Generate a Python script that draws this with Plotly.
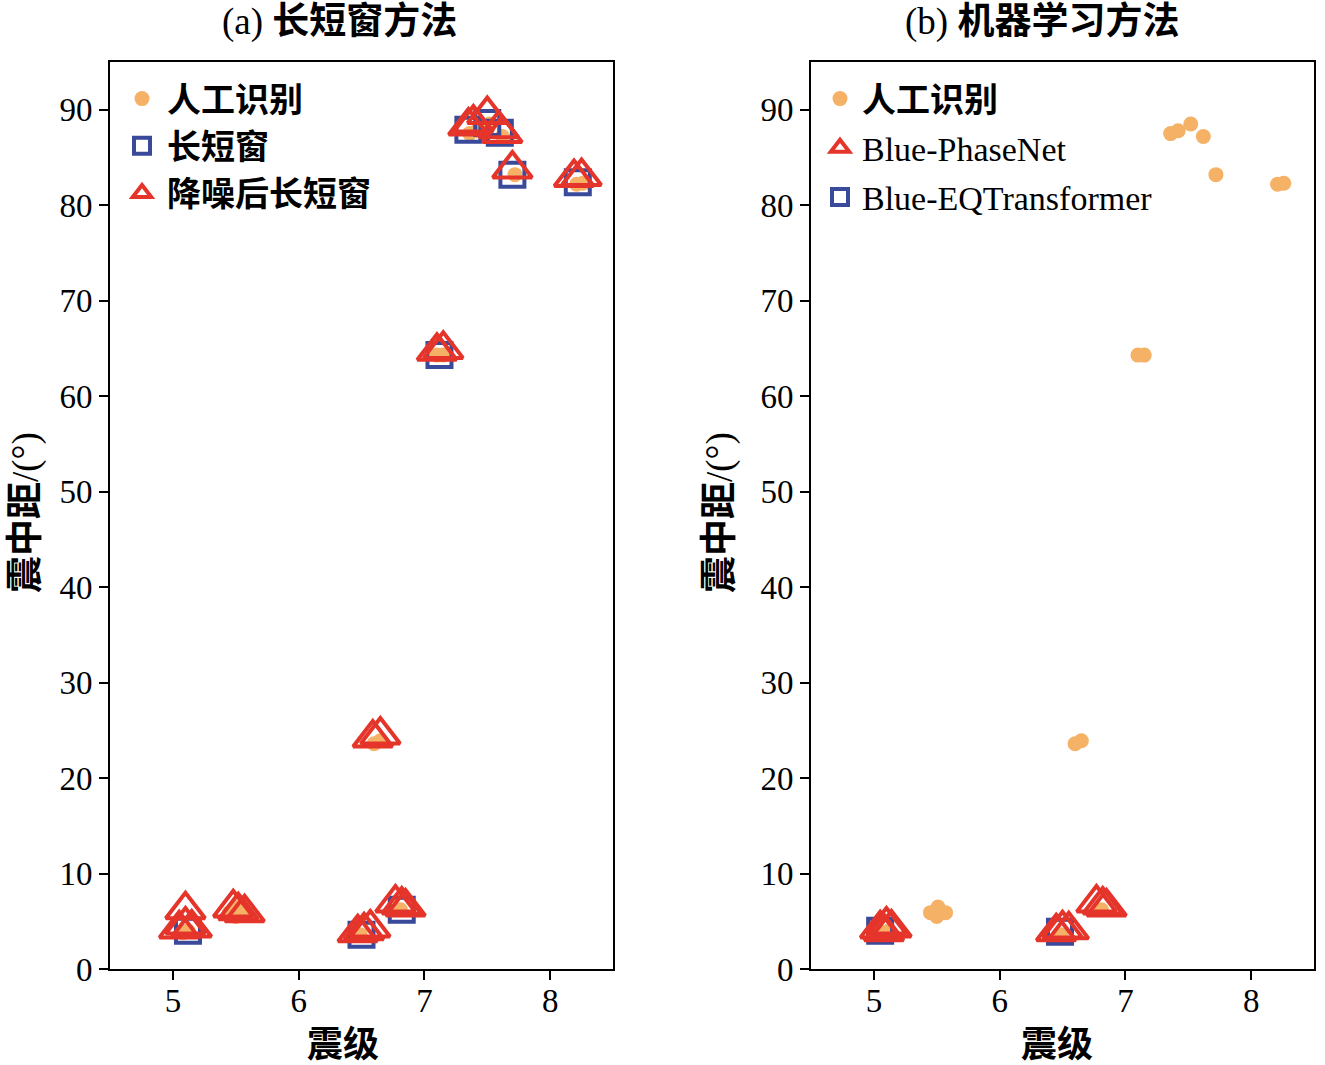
import plotly.graph_objects as go

# ---------------- data ----------------
# manual identification (same in both panels)
mag_manual = [5.08, 5.12, 5.45, 5.51, 5.57, 5.50, 6.49, 6.60, 6.65, 6.81, 7.10, 7.15, 7.36, 7.42, 7.52, 7.62, 7.72, 8.21, 8.26]
dist_manual = [3.8, 4.0, 5.9, 6.5, 5.9, 5.5, 3.6, 23.6, 23.9, 6.2, 64.3, 64.3, 87.5, 87.8, 88.5, 87.2, 83.2, 82.2, 82.3]

# panel (a): STA/LTA
mag_sta = [5.12, 6.50, 6.82, 7.12, 7.35, 7.50, 7.60, 7.70, 8.22]
dist_sta = [4.0, 3.6, 6.2, 64.3, 87.9, 88.6, 87.6, 83.2, 82.4]

# panel (a): STA/LTA after denoising
mag_sta_dn = [5.05, 5.10, 5.15, 5.10, 5.48, 5.52, 5.57, 6.47, 6.52, 6.57, 6.77, 6.82, 6.85,
              6.59, 6.65, 7.10, 7.15, 7.35, 7.39, 7.50, 7.59, 7.62, 7.70, 8.19, 8.25]
dist_sta_dn = [4.2, 4.6, 4.3, 6.2, 6.4, 6.1, 5.9, 3.8, 4.0, 4.3, 6.9, 6.7, 6.5,
               24.2, 24.5, 64.7, 64.9, 88.3, 88.6, 89.5, 88.0, 87.5, 83.8, 82.9, 83.0]

# panel (b): Blue-PhaseNet
mag_pn = [5.05, 5.08, 5.10, 5.14, 6.45, 6.50, 6.55, 6.77, 6.82, 6.85]
dist_pn = [4.2, 3.9, 4.6, 4.3, 3.9, 4.2, 4.1, 6.9, 6.7, 6.5]

# panel (b): Blue-EQTransformer
mag_eqt = [5.05, 6.48]
dist_eqt = [4.0, 3.9]

x_ticks = [5, 6, 7, 8]
y_ticks = [0, 10, 20, 30, 40, 50, 60, 70, 80, 90]

# ---------------- styles ----------------
ORANGE = "#F5B266"
BLUE = "#3A4A9A"
RED = "#E5352B"
SERIF = "Liberation Serif, Noto Sans CJK SC"
W, H = 1325, 1065

fig = go.Figure()

def add_manual(xa, ya, legend):
    fig.add_trace(go.Scatter(x=mag_manual, y=dist_manual, mode="markers", xaxis=xa, yaxis=ya,
                             name="<b>人工识别</b>", legend=legend, legendrank=1, legendgroup=legend + "m",
                             marker=dict(symbol="circle", size=15, color=ORANGE, line=dict(width=0))))

def add_square(x, y, name, xa, ya, legend, rank):
    fig.add_trace(go.Scatter(x=x, y=y, mode="markers", xaxis=xa, yaxis=ya, name=name,
                             legend=legend, legendrank=rank, legendgroup=legend + "s",
                             marker=dict(symbol="square-open", size=24, color=BLUE, line=dict(width=4, color=BLUE))))

def add_triangle(x, y, name, xa, ya, legend, rank):
    fig.add_trace(go.Scatter(x=x, y=y, mode="markers", xaxis=xa, yaxis=ya, name=name,
                             legend=legend, legendrank=rank, legendgroup=legend + "t",
                             marker=dict(symbol="triangle-up-open", size=34, color=RED, line=dict(width=4, color=RED))))

# panel a
add_manual("x", "y", "legend")
add_square(mag_sta, dist_sta, "<b>长短窗</b>", "x", "y", "legend", 2)
add_triangle(mag_sta_dn, dist_sta_dn, "<b>降噪后长短窗</b>", "x", "y", "legend", 3)
# panel b
add_manual("x2", "y2", "legend2")
add_square(mag_eqt, dist_eqt, "Blue-EQTransformer", "x2", "y2", "legend2", 3)
add_triangle(mag_pn, dist_pn, "Blue-PhaseNet", "x2", "y2", "legend2", 2)

def px_x(p):
    return p / W

def px_y(p):
    return 1 - p / H

xdom_a = [px_x(110), px_x(613)]
xdom_b = [px_x(811), px_x(1314)]
ydom = [px_y(969), px_y(62)]

axis_common = dict(showgrid=False, zeroline=False, showline=True, linewidth=2, linecolor="black",
                   mirror=True, ticks="outside", ticklen=9, tickwidth=2, tickcolor="black",
                   tickfont=dict(family="Liberation Serif", size=33, color="black"), automargin=False)

fig.update_layout(
    width=W, height=H,
    margin=dict(l=0, r=0, t=0, b=0),
    paper_bgcolor="white", plot_bgcolor="white",
    font=dict(family=SERIF, color="black"),
    xaxis=dict(domain=xdom_a, range=[4.5, 8.5], tickvals=x_ticks, anchor="y", ticklabelstandoff=-8, **axis_common),
    yaxis=dict(domain=ydom, range=[0, 95], tickvals=y_ticks, anchor="x", **axis_common),
    xaxis2=dict(domain=xdom_b, range=[4.5, 8.5], tickvals=x_ticks, anchor="y2", ticklabelstandoff=-8, **axis_common),
    yaxis2=dict(domain=ydom, range=[0, 95], tickvals=y_ticks, anchor="x2", **axis_common),
    legend=dict(x=px_x(117), y=px_y(70), xanchor="left", yanchor="top", bgcolor="rgba(0,0,0,0)",
                font=dict(family=SERIF, size=34, color="black"), tracegroupgap=0, itemwidth=40),
    legend2=dict(x=px_x(818), y=px_y(70), xanchor="left", yanchor="top", bgcolor="rgba(0,0,0,0)",
                 font=dict(family=SERIF, size=34, color="black"), tracegroupgap=2, itemwidth=34),
)

annotations = [
    dict(text="(a) <b>长短窗方法</b>", x=px_x(339), y=px_y(22), font=dict(family=SERIF, size=37)),
    dict(text="(b) <b>机器学习方法</b>", x=px_x(1042), y=px_y(22), font=dict(family=SERIF, size=37)),
    dict(text="<b>震级</b>", x=px_x(343), y=px_y(1045), font=dict(family=SERIF, size=36)),
    dict(text="<b>震级</b>", x=px_x(1057), y=px_y(1045), font=dict(family=SERIF, size=36)),
    dict(text="<b>震中距</b>/(°)", x=px_x(26), y=px_y(513), textangle=-90, font=dict(family=SERIF, size=37)),
    dict(text="<b>震中距</b>/(°)", x=px_x(720), y=px_y(513), textangle=-90, font=dict(family=SERIF, size=37)),
]
for a in annotations:
    a.update(xref="paper", yref="paper", showarrow=False, xanchor="center", yanchor="middle")
    a["font"]["color"] = "black"
fig.update_layout(annotations=annotations)

fig.write_html("out.html")
